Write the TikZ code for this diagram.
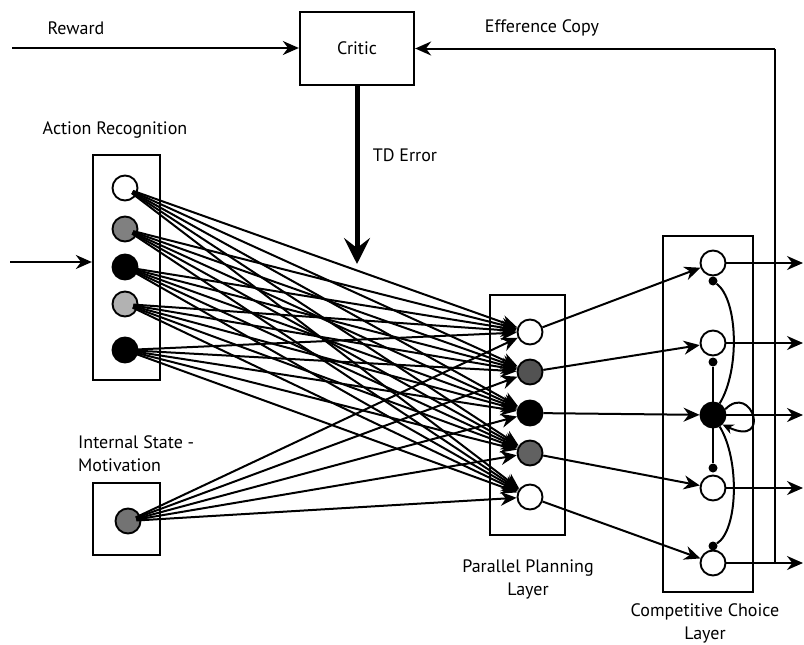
\documentclass[tikz,border=0pt]{standalone}
\usepackage{fontspec}
\setmainfont{PT Sans}
\usetikzlibrary{arrows.meta}
\begin{document}
\begin{tikzpicture}[x=1pt,y=-1pt,
  box/.style={draw, line width=2.3pt},
  neuron/.style={circle, draw, line width=1.9pt, minimum size=25pt, inner sep=0pt},
  conn/.style={line width=2pt, -{Stealth[length=16pt,width=14pt]}},
  plain/.style={line width=2pt},
  inhdot/.style={circle, fill=black, minimum size=9pt, inner sep=0pt},
  lbl/.style={font=\fontsize{18}{23}\selectfont, align=center, inner sep=0pt}
]
\useasboundingbox (0,0) rectangle (804,645);

% Critic
\node[box, minimum width=114pt, minimum height=73pt, lbl] (critic) at (357,48.5) {Critic};
\coordinate (rewin) at (12,48);
\node[lbl] (rewl) at (76,28) {Reward};
\node[lbl] (effl) at (542,28) {Efference Copy};
\draw[conn] (rewin) -- (rewin -| critic.west);

% Action recognition
\node[box, minimum width=67pt, minimum height=225pt] (arbox) at (126.5,267.5) {};
\node[lbl] (arl) at (115,130) {Action Recognition};
\node[neuron, fill=white] (a1) at (125,188) {};
\node[neuron, fill=gray] (a2) at (125,229) {};
\node[neuron, fill=black] (a3) at (125,267) {};
\node[neuron, fill=black!30] (a4) at (125,304) {};
\node[neuron, fill=black] (a5) at (125,350) {};
\coordinate (inp) at (10,262);
\draw[conn] (inp) -- (inp -| arbox.west);

% Internal state
\node[box, minimum width=67pt, minimum height=72pt] (isbox) at (126.5,519) {};
\node[lbl, align=left, anchor=west] (isl) at (78,454) {Internal State -\\Motivation};
\node[neuron, fill=black!55] (m1) at (128,521) {};

% Parallel planning
\node[box, minimum width=75pt, minimum height=240pt] (ppbox) at (527.5,415) {};
\node[lbl] (ppl) at (528,579) {Parallel Planning\\Layer};
\node[neuron, fill=white] (p1) at (530,332) {};
\node[neuron, fill=black!68] (p2) at (530,372) {};
\node[neuron, fill=black] (p3) at (530,413) {};
\node[neuron, fill=black!62] (p4) at (530,453) {};
\node[neuron, fill=white] (p5) at (530,497) {};

% Competitive choice
\node[box, minimum width=90pt, minimum height=356pt] (ccbox) at (708,414) {};
\node[lbl] (ccl) at (705,623) {Competitive Choice\\Layer};
\node[neuron, fill=white] (c1) at (713,263) {};
\node[neuron, fill=white] (c2) at (713,343) {};
\node[neuron, fill=black] (c3) at (713,415) {};
\node[neuron, fill=white] (c4) at (713,488) {};
\node[neuron, fill=white] (c5) at (713,563) {};

% TD error
\coordinate (tdend) at (357,264);
\draw[line width=5pt, -{Stealth[length=26pt,width=26pt,inset=10pt]}] (critic.south -| tdend) -- (tdend);
\node[lbl] (tdl) at (405,155) {TD Error};

% all-to-all projections
\foreach \s in {a1,a2,a3,a4,a5,m1}{
  \foreach \t in {p1,p2,p3,p4,p5}{
    \draw[conn, shorten <=-5pt] (\s) -- (\t);
  }
}

% planning -> choice
\foreach \i in {1,...,5}{
  \draw[conn] (p\i) -- (c\i);
}

% outputs
\foreach \i in {1,...,5}{
  \coordinate (o\i) at (803,0 |- c\i);
  \draw[conn] (c\i) -- (o\i |- c\i);
}

% efference copy
\coordinate (effb) at (775,563);
\draw[plain] (effb) -- (effb |- critic.east);
\draw[conn] (effb |- critic.east) -- (critic.east);

% inhibitory connections
\node[inhdot] (d1) at (713,281) {};
\node[inhdot] (d2) at (713,362) {};
\node[inhdot] (d4) at (713,468) {};
\node[inhdot] (d5) at (713,546) {};
\draw[plain] (c3.60) .. controls (740,370) and (738,300) .. (d1);
\draw[plain] (c3.north) -- (d2);
\draw[plain] (c3.south) -- (d4);
\draw[plain] (c3.-60) .. controls (740,460) and (738,530) .. (d5);
\draw[line width=2pt, -{Stealth[length=11pt,width=10pt]}] (c3.25) .. controls (752,382) and (772,448) .. (c3.-45);
\end{tikzpicture}
\end{document}
